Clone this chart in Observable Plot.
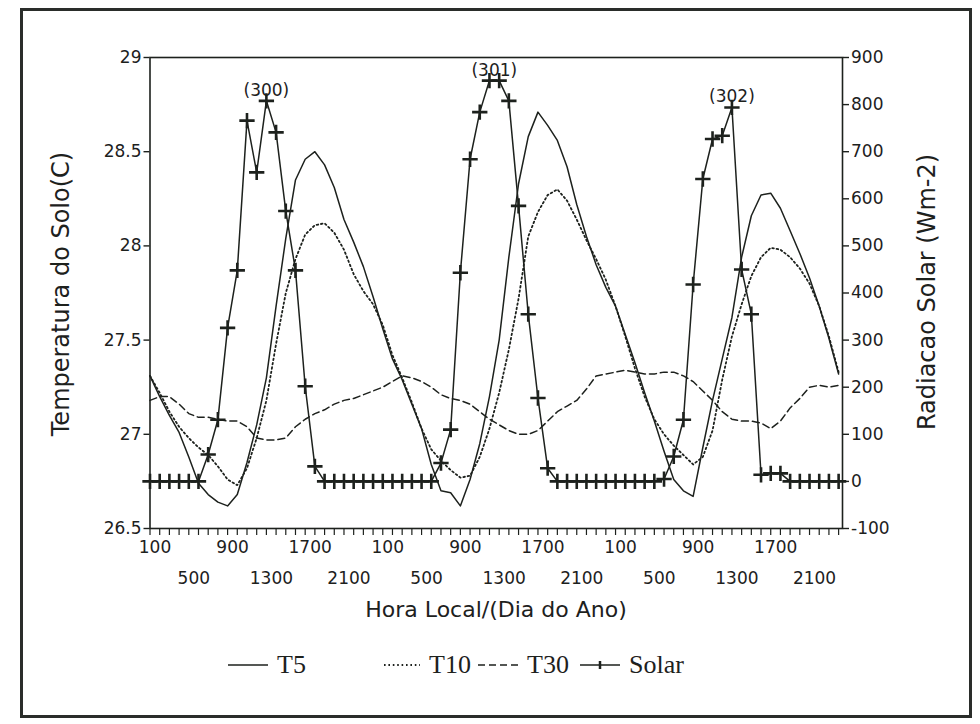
<!DOCTYPE html>
<html>
<head>
<meta charset="utf-8">
<script src="https://cdn.jsdelivr.net/npm/d3@7"></script>
<script src="https://cdn.jsdelivr.net/npm/@observablehq/plot@0.6"></script>
<style>
  body { margin: 0; background: #fff; font-family: "DejaVu Sans", sans-serif; color: #1d211d; }
  #wrap { position: relative; width: 980px; height: 724px; overflow: hidden; background: #fff; }
  #border { position: absolute; left: 20px; top: 8px; width: 946px; height: 704px; border: 3px solid #2a2d2a; }
  #chart { position: absolute; left: 0; top: 0; }
  .title { position: absolute; white-space: nowrap; line-height: 1; }
  .rot { transform: translate(-50%, -50%) rotate(-90deg); }
  .legend-item { position: absolute; top: 651px; height: 28px; display: flex; align-items: center;
    font-family: "Liberation Serif", serif; font-size: 26px; }
  .legend-item svg { margin-right: 9px; }
</style>
</head>
<body>
<div id="wrap">
  <div id="border"></div>
  <div id="chart"></div>
  <div class="title" id="xtitle" style="left:496px; top:610px; transform:translate(-50%,-50%); font-size:22px;"></div>
  <div class="title rot" id="yltitle" style="left:61px; top:294px; font-size:24px;"></div>
  <div class="title rot" id="yrtitle" style="left:927px; top:292px; font-size:24px;"></div>
  <div id="legend"></div>
</div>
<script>
// ---------- data ----------
const hours = d3.range(1, 73); // hourly observations, days 300-302

const solar = [
  0, 0, 0, 0, 0, 0, 57, 131, 326, 448, 766, 656, 808, 741, 574, 448, 202, 32,
  0, 0, 0, 0, 0, 0, 0, 0, 0, 0, 0, 0,
  39, 110, 443, 684, 784, 851, 851, 808, 585, 355, 177, 28,
  0, 0, 0, 0, 0, 0, 0, 0, 0, 0, 0, 5,
  53, 131, 418, 642, 727, 734, 794, 450, 355, 14, 17, 17,
  0, 0, 0, 0, 0, 0
];

const t5 = [
  27.31, 27.20, 27.10, 27.01, 26.88, 26.74, 26.68, 26.64, 26.62, 26.68, 26.85, 27.05,
  27.30, 27.68, 28.04, 28.35, 28.46, 28.50, 28.43, 28.31, 28.14, 28.02, 27.89, 27.73,
  27.56, 27.40, 27.29, 27.16, 27.03, 26.84, 26.70, 26.69, 26.62, 26.76, 26.95, 27.20,
  27.50, 27.94, 28.33, 28.58, 28.71, 28.64, 28.56, 28.42, 28.22, 28.05, 27.90, 27.78,
  27.68, 27.53, 27.38, 27.22, 27.07, 26.91, 26.76, 26.70, 26.67, 26.93, 27.18, 27.40,
  27.62, 27.94, 28.16, 28.27, 28.28, 28.20, 28.08, 27.96, 27.83, 27.68, 27.51, 27.32
];

const t10 = [
  27.31, 27.22, 27.12, 27.04, 26.98, 26.93, 26.89, 26.83, 26.76, 26.73, 26.82, 26.98,
  27.18, 27.48, 27.75, 27.93, 28.06, 28.11, 28.12, 28.07, 27.98, 27.85, 27.76, 27.69,
  27.58, 27.42, 27.30, 27.17, 27.03, 26.92, 26.86, 26.81, 26.77, 26.78, 26.88, 27.03,
  27.22, 27.45, 27.72, 28.05, 28.18, 28.27, 28.30, 28.24, 28.14, 28.03, 27.93, 27.82,
  27.68, 27.52, 27.35, 27.20, 27.08, 27.00, 26.94, 26.89, 26.84, 26.88, 27.02, 27.29,
  27.52, 27.69, 27.84, 27.94, 27.99, 27.98, 27.94, 27.88, 27.80, 27.68, 27.52, 27.33
];

const t30 = [
  27.18, 27.20, 27.20, 27.16, 27.11, 27.09, 27.09, 27.08, 27.07, 27.07, 27.04, 26.98,
  26.97, 26.97, 26.98, 27.04, 27.08, 27.11, 27.13, 27.16, 27.18, 27.19, 27.21, 27.23,
  27.25, 27.28, 27.31, 27.30, 27.28, 27.25, 27.21, 27.19, 27.18, 27.16, 27.12, 27.08,
  27.05, 27.02, 27.00, 27.00, 27.02, 27.07, 27.12, 27.15, 27.18, 27.24, 27.31, 27.32,
  27.33, 27.34, 27.33, 27.32, 27.32, 27.33, 27.33, 27.31, 27.28, 27.23, 27.18, 27.12,
  27.08, 27.07, 27.07, 27.06, 27.03, 27.07, 27.14, 27.19, 27.25, 27.26, 27.25, 27.26
];

const dayLabels = ["(300)", "(301)", "(302)"];
const tempTicks = [26.5, 27, 27.5, 28, 28.5, 29];
const solarTicks = [-100, 0, 100, 200, 300, 400, 500, 600, 700, 800, 900];
const tickRow1 = [1, 9, 17, 25, 33, 41, 49, 57, 65];   // 100, 900, 1700 ...
const tickRow2 = [5, 13, 21, 29, 37, 45, 53, 61, 69];  // 500, 1300, 2100 ...

const seriesNames = ["T5", "T10", "T30", "Solar"];
const xTitle = "Hora Local/(Dia do Ano)";
const yLeftTitle = "Temperatura do Solo(C)";
const yRightTitle = "Radiacao Solar (Wm-2)";

// ---------- helpers ----------
const ink = "#1d211d";
const tempDomain = [tempTicks[0], tempTicks[tempTicks.length - 1]];
const solarDomain = [solarTicks[0], solarTicks[solarTicks.length - 1]];
const toT = s => tempDomain[0] + (s - solarDomain[0]) * (tempDomain[1] - tempDomain[0]) / (solarDomain[1] - solarDomain[0]);
const fromT = t => solarDomain[0] + (t - tempDomain[0]) * (solarDomain[1] - solarDomain[0]) / (tempDomain[1] - tempDomain[0]);
const hourLabel = h => String(((h - 1) % 24 + 1) * 100);

const rows = hours.map((h, i) => ({h, t5: t5[i], t10: t10[i], t30: t30[i], solar: solar[i], ts: toT(solar[i])}));

// day peak labels placed above each day's solar maximum
const peaks = dayLabels.map((label, d) => {
  const day = rows.slice(d * 24, d * 24 + 24);
  const mx = d3.max(day, r => r.solar);
  const hs = day.filter(r => r.solar === mx).map(r => r.h);
  return {label, h: d3.mean(hs), t: toT(mx)};
});

const chart = Plot.plot({
  width: 980,
  height: 640,
  marginLeft: 149.5,
  marginRight: 138,
  marginTop: 57,
  marginBottom: 112,
  x: {domain: [1, 72.4]},
  y: {domain: tempDomain},
  style: {fontFamily: "DejaVu Sans, sans-serif", color: ink, background: "transparent", overflow: "visible"},
  marks: [
    Plot.frame({stroke: ink, strokeWidth: 1.6}),
    Plot.axisY(tempTicks, {anchor: "left", tickSize: 6, tickPadding: 2.5, fontSize: 17, strokeWidth: 1.4,
      tickFormat: d => String(d), label: null}),
    Plot.axisY(solarTicks.map(toT), {anchor: "right", tickSize: 6, tickPadding: 2.5, fontSize: 17, strokeWidth: 1.4,
      tickFormat: t => String(Math.round(fromT(t))), label: null}),
    Plot.axisX(hours, {anchor: "bottom", tickSize: 7, strokeWidth: 1.2, tickFormat: () => "", label: null}),
    Plot.axisX(tickRow1, {anchor: "bottom", tickSize: 0, tickPadding: 12, fontSize: 17, dx: 5,
      tickFormat: hourLabel, label: null}),
    Plot.axisX(tickRow2, {anchor: "bottom", tickSize: 0, tickPadding: 43, fontSize: 17, dx: 5,
      tickFormat: hourLabel, label: null}),
    Plot.line(rows, {x: "h", y: "t30", stroke: ink, strokeWidth: 1.5, strokeDasharray: "7,4"}),
    Plot.line(rows, {x: "h", y: "t10", stroke: ink, strokeWidth: 1.8, strokeDasharray: "1.6,2.8"}),
    Plot.line(rows, {x: "h", y: "t5", stroke: ink, strokeWidth: 1.5}),
    Plot.line(rows, {x: "h", y: "ts", stroke: ink, strokeWidth: 1.5}),
    Plot.dot(rows, {x: "h", y: "ts", symbol: "plus", r: 5, stroke: ink, strokeWidth: 2.6}),
    Plot.text(peaks, {x: "h", y: "t", text: "label", fontSize: 17, lineAnchor: "bottom", dy: -5, fill: ink})
  ]
});
document.getElementById("chart").appendChild(chart);

document.getElementById("xtitle").textContent = xTitle;
document.getElementById("yltitle").textContent = yLeftTitle;
document.getElementById("yrtitle").textContent = yRightTitle;

// ---------- legend ----------
const legendStyles = [
  {dash: null, marker: false, left: 228, w: 40},
  {dash: "1.6,2.8", marker: false, left: 384, w: 36},
  {dash: "7,4", marker: false, left: 478, w: 40},
  {dash: null, marker: true, left: 580, w: 40}
];
const legend = document.getElementById("legend");
seriesNames.forEach((name, i) => {
  const st = legendStyles[i];
  const item = document.createElement("div");
  item.className = "legend-item";
  item.style.left = st.left + "px";
  const svg = d3.create("svg").attr("width", st.w).attr("height", 14);
  svg.append("line").attr("x1", 0).attr("x2", st.w).attr("y1", 7).attr("y2", 7)
    .attr("stroke", ink).attr("stroke-width", st.dash === "1.6,2.8" ? 1.8 : 1.5)
    .attr("stroke-dasharray", st.dash);
  if (st.marker) {
    svg.append("line").attr("x1", st.w / 2).attr("x2", st.w / 2).attr("y1", 3).attr("y2", 11)
      .attr("stroke", ink).attr("stroke-width", 2.5);
  }
  item.appendChild(svg.node());
  const span = document.createElement("span");
  span.textContent = name;
  item.appendChild(span);
  legend.appendChild(item);
});
</script>
</body>
</html>
